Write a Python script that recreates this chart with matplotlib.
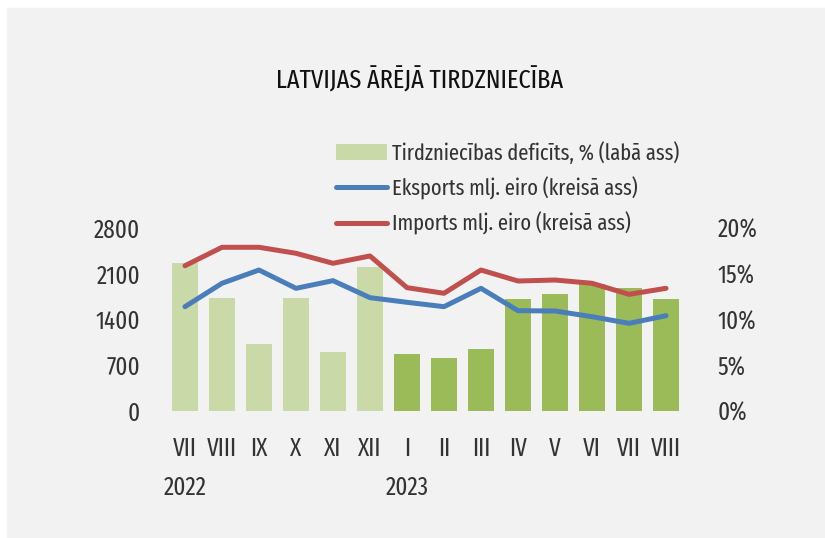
import matplotlib.pyplot as plt
import matplotlib.transforms as mtransforms
import numpy as np

months = ["VII", "VIII", "IX", "X", "XI", "XII", "I", "II", "III",
          "IV", "V", "VI", "VII", "VIII"]
years = {0: "2022", 6: "2023"}
deficit = [16.2, 12.4, 7.3, 12.3, 6.5, 15.7, 6.2, 5.8, 6.8,
           12.2, 12.8, 13.9, 13.4, 12.2]
exports = [1596, 1954, 2157, 1877, 1994, 1734, 1663, 1596, 1877,
           1535, 1530, 1443, 1341, 1458]
imports = [2223, 2505, 2505, 2413, 2260, 2372, 1887, 1801, 2157,
           1989, 2004, 1954, 1785, 1877]
bar_colors = ["#c9d9a7"] * 6 + ["#9bbb59"] * 8

plt.rcParams['font.family'] = ['Fira Sans Extra Condensed', 'DejaVu Sans']
plt.rcParams['font.weight'] = 'normal'
txt = "#333333"
fs = 18

fig = plt.figure(figsize=(8.25, 5.38), dpi=100)
# grey panel with a thin white strip on top and left
fig.patches.append(plt.Rectangle((7 / 825, 0), 1, 1 - 8 / 538,
                                 transform=fig.transFigure,
                                 color="#f2f2f2", zorder=-10))

ax2 = fig.add_axes([0.2018, 0.2361, 0.6279, 0.3401])  # right axis (bars)
ax = ax2.twinx()
ax.yaxis.tick_left()
ax2.yaxis.tick_right()

x = np.arange(len(months))
bars = ax2.bar(x, deficit, width=0.72, color=bar_colors, zorder=1)
ln_e, = ax.plot(x, exports, color="#4a7ebb", lw=3.6, solid_capstyle="round")
ln_i, = ax.plot(x, imports, color="#c0504d", lw=3.6, solid_capstyle="round")

ax2.set_xlim(-0.5, len(months) - 0.5)
ax2.set_ylim(0, 20)
ax.set_ylim(0, 2800)
ax.set_yticks([0, 700, 1400, 2100, 2800])
ax2.set_yticks([0, 5, 10, 15, 20])
ax2.set_yticklabels([f"{v}%" for v in [0, 5, 10, 15, 20]], ha="left")
ax2.set_xticks(x)
ax2.set_xticklabels(months)

for a in (ax, ax2):
    a.patch.set_visible(False)
    for s in a.spines.values():
        s.set_visible(False)
    a.tick_params(length=0, labelsize=fs, colors=txt)
ax.tick_params(axis="y", pad=19)
ax2.tick_params(axis="y", pad=24)
ax2.tick_params(axis="x", pad=18)

trans = mtransforms.blended_transform_factory(ax2.transData, ax2.transAxes)
for i, yr in years.items():
    ax2.text(i, -0.42, yr, transform=trans, ha="center", va="center",
             fontsize=fs, color=txt)

fig.text(0.509, 0.851, "LATVIJAS ĀRĒJĀ TIRDZNIECĪBA", ha="center",
         va="center", fontsize=19, fontweight="normal", color="#111111")

leg = fig.legend([bars, ln_e, ln_i],
                 ["Tirdzniecības deficīts, % (labā ass)",
                  "Eksports mlj. eiro (kreisā ass)",
                  "Imports mlj. eiro (kreisā ass)"],
                 loc="upper left", bbox_to_anchor=(0.394, 0.758),
                 frameon=False, fontsize=16, labelcolor=txt,
                 handlelength=2.3, handletextpad=0.2, labelspacing=0.55,
                 borderpad=0)

fig.savefig("out.png", dpi=100)
